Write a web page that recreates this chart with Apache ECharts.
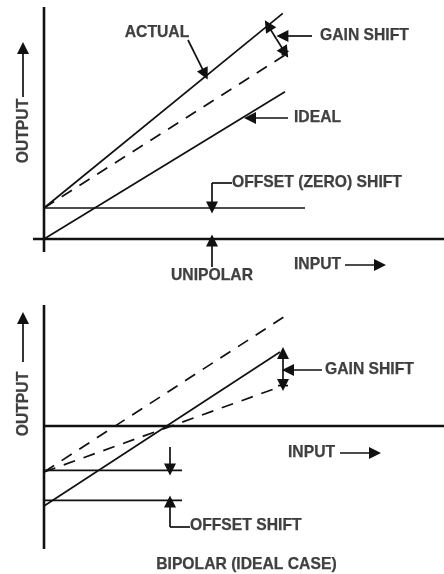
<!DOCTYPE html>
<html><head><meta charset="utf-8">
<script src="https://cdn.jsdelivr.net/npm/echarts@6/dist/echarts.min.js"></script>
<style>html,body{margin:0;padding:0;background:#fff}#c{width:444px;height:574px}</style>
</head><body><div id="c"></div>
<script>
// ---------- UNIPOLAR panel (input / output units) ----------
const uniAxisV   = [[0,-3.25],[0,58]];
const uniAxisH   = [[-2.75,0],[100,0]];
const uniIdeal   = [[0,0],[60.25,36.8]];
const uniActual  = [[0,7.75],[59.7,56.4]];
const uniDashed  = [[0,7.75],[60.25,46]];
const uniOffset  = [[0,7.75],[65.25,7.75]];
const uniGainBar = [[59.4,45.97],[61.1,47.03]];
const uniArrows  = [
  [[58.1,50.0],[56,53.4]],        // gain shift double arrow, upper half
  [[58.1,50.0],[60.25,46.6]],     // gain shift double arrow, lower half
  [[67,50.75],[59.6,50.75]],      // gain shift pointer
  [[36,49.75],[40.25,41.2]],      // actual pointer
  [[61,30.25],[51.5,30.25]],      // ideal pointer
  [[47,14],[42,14],[42,7.9]],     // offset (zero) shift leader
  [[42,-7],[42,-0.4]],            // unipolar pointer
  [[75.25,-6.5],[84,-6.5]],       // input arrow
  [[-5.25,35.5],[-5.25,47.75]]    // output arrow
];
const uniTextLeft   = [['GAIN SHIFT',69,50.75],['IDEAL',62.5,30.25],['OFFSET (ZERO) SHIFT',47,14],['INPUT',62.5,-6.5]];
const uniTextCenter = [['ACTUAL',28.25,51.5],['UNIPOLAR',42,-9.25]];
const uniTextRot    = [['OUTPUT',-5,27]];

// ---------- BIPOLAR panel ----------
const bipAxisV    = [[0,-30.75],[0,30.25]];
const bipAxisH    = [[-0.25,0],[100,0]];
const bipSolid    = [[0,-20],[59,18.5]];
const bipDashUp   = [[0,-11.5],[61.5,28.25]];
const bipDashLow  = [[0,-11.5],[60.25,10.25]];
const bipHorizUp  = [[0,-11.1],[34.5,-11.1]];
const bipHorizLow = [[0,-18.6],[34.5,-18.6]];
const bipGainBar  = [[58.5,10.1],[61,10.1]];
const bipArrows   = [
  [[59.75,14.25],[59.75,18.25]],       // gain shift double arrow, upper half
  [[59.75,14.25],[59.75,10.25]],       // gain shift double arrow, lower half
  [[69.5,14],[61,14]],                 // gain shift pointer
  [[31.5,-5.25],[31.5,-10.9]],         // offset down arrow
  [[36.5,-25.25],[31.5,-25.25],[31.5,-18.9]], // offset shift leader
  [[74,-6.75],[82.75,-6.75]],          // input arrow
  [[-5.25,16],[-5.25,27]]              // output arrow
];
const bipTextLeft   = [['GAIN SHIFT',70.25,14],['INPUT',61,-6.75],['OFFSET SHIFT',36.5,-25]];
const bipTextCenter = [['BIPOLAR (IDEAL CASE)',50.6,-34.75]];
const bipTextRot    = [['OUTPUT',-5,5.5]];

// ---------- build ----------
const INK = '#111';
const FONT = {fontFamily:'Liberation Sans, Arial, sans-serif', fontWeight:'bold', fontSize:15.7, color:INK,
  textBorderColor:INK, textBorderWidth:0.25};

function seg(g, pts, width, dashed){
  return {type:'line', xAxisIndex:g, yAxisIndex:g, data:pts, showSymbol:false, symbol:'none',
    silent:true, clip:false, animation:false,
    lineStyle:{color:INK, width:width, type: dashed ? [12,9] : 'solid', cap:'butt'}};
}
// arrow paths: every leg but the last is a plain segment; the last leg carries the head
function arrows(g, list){
  const out = [];
  const heads = [];
  list.forEach(c=>{
    for (let i=0;i<c.length-2;i++) out.push(seg(g,[c[i],c[i+1]],1.7));
    heads.push({coords:[c[c.length-2], c[c.length-1]]});
  });
  out.push({type:'lines', coordinateSystem:'cartesian2d', xAxisIndex:g, yAxisIndex:g,
    polyline:false, clip:false, silent:true, animation:false,
    symbol:['none','triangle'], symbolSize:[8,12],
    lineStyle:{color:INK, width:1.7, opacity:1, curveness:0},
    itemStyle:{color:INK},
    data:heads});
  return out;
}
function texts(g, list, align, rotate){
  return {type:'scatter', xAxisIndex:g, yAxisIndex:g, symbolSize:0, silent:true, clip:false, animation:false,
    data:list.map(t=>({value:[t[1],t[2]], name:t[0]})),
    label:Object.assign({show:true, position:'inside', align:align, verticalAlign:'middle',
      rotate:rotate||0, formatter:p=>p.name}, FONT)};
}

const series = [].concat(
  seg(0, uniAxisV, 2.6), seg(0, uniAxisH, 2.6),
  seg(0, uniIdeal, 1.7), seg(0, uniActual, 1.7), seg(0, uniDashed, 1.7, true), seg(0, uniOffset, 1.7),
  seg(0, uniGainBar, 1.7),
  arrows(0, uniArrows),
  texts(0, uniTextLeft, 'left'), texts(0, uniTextCenter, 'center'), texts(0, uniTextRot, 'center', 90),

  seg(1, bipAxisV, 2.6), seg(1, bipAxisH, 2.6),
  seg(1, bipSolid, 1.7), seg(1, bipDashUp, 1.7, true), seg(1, bipDashLow, 1.7, true),
  seg(1, bipHorizUp, 1.7), seg(1, bipHorizLow, 1.7), seg(1, bipGainBar, 1.7),
  arrows(1, bipArrows),
  texts(1, bipTextLeft, 'left'), texts(1, bipTextCenter, 'center'), texts(1, bipTextRot, 'center', 90)
);

// 4 px per unit; unipolar origin at (44,239), bipolar origin at (44,426)
const ax = (i,min,max)=>({type:'value', gridIndex:i, min:min, max:max, show:false});
const option = {
  backgroundColor:'#fff',
  animation:false,
  grid:[
    {left:20, width:424, top:7, height:272},
    {left:20, width:424, top:302, height:268}
  ],
  xAxis:[ax(0,-6,100), ax(1,-6,100)],
  yAxis:[ax(0,-10,58), ax(1,-36,31)],
  series:series
};
const chart = echarts.init(document.getElementById('c'), null, {renderer:'canvas'});
chart.setOption(option);
</script>
</body></html>
